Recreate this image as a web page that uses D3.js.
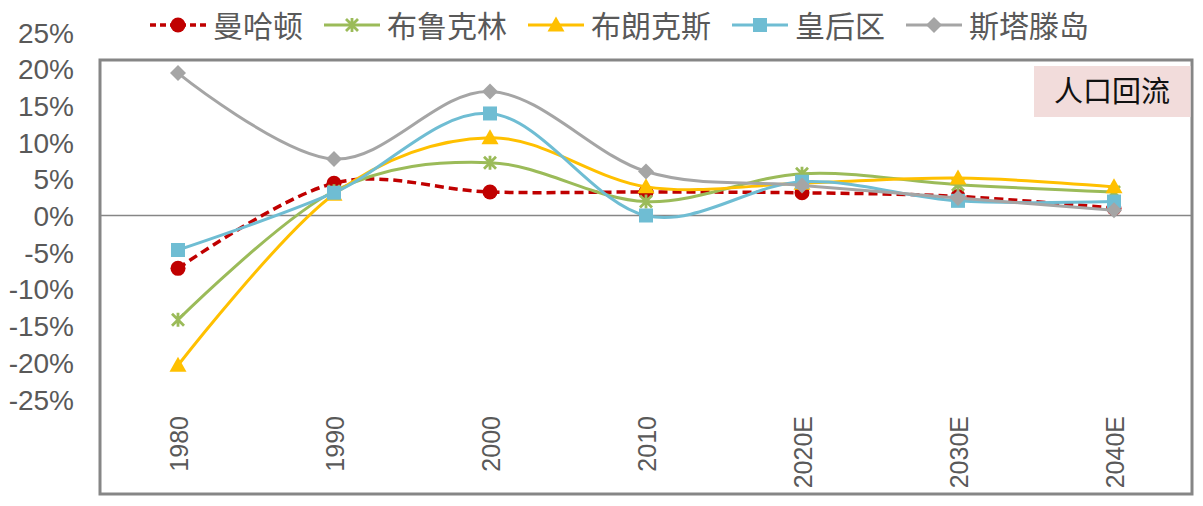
<!DOCTYPE html>
<html>
<head>
<meta charset="utf-8">
<script src="https://cdn.jsdelivr.net/npm/d3@7"></script>
<style>
  body { margin: 0; background: #fff; }
  svg { display: block; }
</style>
</head>
<body>
<script>
// categories and series (percent)
var years = ["1980", "1990", "2000", "2010", "2020E", "2030E", "2040E"];
var manhattan = [-7.2, 4.4, 3.2, 3.2, 3.1, 2.6, 1.0];
var brooklyn  = [-14.2, 3.3, 7.2, 1.9, 5.7, 4.2, 3.2];
var bronx     = [-20.4, 2.9, 10.6, 3.9, 4.4, 5.1, 3.9];
var queens    = [-4.7, 3.1, 13.9, 0.0, 4.6, 2.0, 1.9];
var staten    = [19.4, 7.7, 16.9, 6.0, 4.1, 2.4, 0.7];
var yTicks = [25, 20, 15, 10, 5, 0, -5, -10, -15, -20, -25];

var series = [
  {name: "曼哈顿", values: manhattan, color: "#C00000", marker: "circle", dash: "9,5"},
  {name: "布鲁克林", values: brooklyn, color: "#9BBB59", marker: "star", dash: null},
  {name: "布朗克斯", values: bronx, color: "#FFC000", marker: "triangle", dash: null},
  {name: "皇后区", values: queens, color: "#6FBDD3", marker: "square", dash: null},
  {name: "斯塔滕岛", values: staten, color: "#A5A5A5", marker: "diamond", dash: null}
];

var width = 1203, height = 506;
var box = {left: 100, top: 60, right: 1192, bottom: 494};

var svg = d3.select("body").append("svg")
    .attr("width", width)
    .attr("height", height);

var x = d3.scaleBand().domain(years).range([box.left, box.right]);
var y = d3.scaleLinear().domain([-25, 25]).range([399, 32]);

//plot frame
svg.append("rect")
    .attr("x", box.left).attr("y", box.top)
    .attr("width", box.right - box.left).attr("height", box.bottom - box.top)
    .attr("fill", "none").attr("stroke", "#868686").attr("stroke-width", 3);

//zero line
svg.append("line")
    .attr("x1", box.left).attr("x2", box.right)
    .attr("y1", y(0)).attr("y2", y(0))
    .attr("stroke", "#868686").attr("stroke-width", 1.5);

//y labels
var yAxis = d3.axisLeft(y).tickValues(yTicks).tickSize(0).tickFormat(function(d){ return d + "%"; });
var yg = svg.append("g").attr("transform", "translate(74,0)").call(yAxis);
yg.select(".domain").remove();
yg.selectAll("text")
    .attr("x", 0).attr("dy", "0.36em")
    .style("font-family", "'Liberation Sans', Arial, sans-serif")
    .style("font-size", "28px").attr("fill", "#595959");

//x labels (rotated)
svg.selectAll(".xlab")
    .data(years).enter()
    .append("text")
    .attr("class", "xlab")
    .attr("transform", function(d){ return "translate(" + (x(d) + x.bandwidth() / 2 + 1) + ",416) rotate(-90)"; })
    .attr("text-anchor", "end")
    .attr("dy", "0.36em")
    .style("font-family", "'Liberation Sans', Arial, sans-serif")
    .style("font-size", "25px")
    .attr("fill", "#595959")
    .text(function(d){ return d; });

//marker drawing
function drawMarker(g, type, color, cx, cy){
    if (type == "circle"){
        g.append("circle").attr("cx", cx).attr("cy", cy).attr("r", 7.5).attr("fill", color);
    } else if (type == "square"){
        g.append("rect").attr("x", cx - 7).attr("y", cy - 7).attr("width", 14).attr("height", 14).attr("fill", color);
    } else if (type == "triangle"){
        g.append("path").attr("d", "M" + cx + "," + (cy - 8.5) + "L" + (cx + 8.5) + "," + (cy + 6.5) + "L" + (cx - 8.5) + "," + (cy + 6.5) + "Z").attr("fill", color);
    } else if (type == "diamond"){
        g.append("path").attr("d", "M" + cx + "," + (cy - 8) + "L" + (cx + 8) + "," + cy + "L" + cx + "," + (cy + 8) + "L" + (cx - 8) + "," + cy + "Z").attr("fill", color);
    } else if (type == "star"){
        var s = 6;
        g.append("path")
            .attr("d", "M" + (cx - s) + "," + (cy - s) + "L" + (cx + s) + "," + (cy + s) +
                       "M" + (cx + s) + "," + (cy - s) + "L" + (cx - s) + "," + (cy + s) +
                       "M" + cx + "," + (cy - s - 1) + "L" + cx + "," + (cy + s + 1))
            .attr("stroke", color).attr("stroke-width", 2.8).attr("fill", "none");
    }
}

var line = d3.line()
    .x(function(d, i){ return x(years[i]) + x.bandwidth() / 2; })
    .y(function(d){ return y(d); })
    .curve(d3.curveCatmullRom.alpha(0));

//series: line then markers
series.forEach(function(s){
    var g = svg.append("g");
    g.append("path")
        .datum(s.values)
        .attr("d", line)
        .attr("fill", "none")
        .attr("stroke", s.color)
        .attr("stroke-width", s.dash ? 3.5 : 3)
        .attr("stroke-dasharray", s.dash);
    s.values.forEach(function(v, i){
        drawMarker(g, s.marker, s.color, x(years[i]) + x.bandwidth() / 2, y(v));
    });
});

//legend
var lx = 150;
series.forEach(function(s){
    var g = svg.append("g");
    g.append("line")
        .attr("x1", lx).attr("x2", lx + 56).attr("y1", 25).attr("y2", 25)
        .attr("stroke", s.color).attr("stroke-width", s.dash ? 3.5 : 3)
        .attr("stroke-dasharray", s.dash ? "6,4" : null);
    drawMarker(g, s.marker, s.color, lx + 28, 25);
    var t = g.append("text")
        .attr("x", lx + 63).attr("y", 26)
        .attr("dy", "0.35em")
        .style("font-family", "'Noto Sans CJK SC', sans-serif")
        .style("font-size", "30px")
        .attr("fill", "#595959")
        .text(s.name);
    lx += 63 + t.node().getComputedTextLength() + 21;
});

//annotation box
svg.append("rect")
    .attr("x", 1034).attr("y", 66).attr("width", box.right - 1.5 - 1034).attr("height", 51)
    .attr("fill", "#F2DCDB");
svg.append("text")
    .attr("x", 1112).attr("y", 92)
    .attr("text-anchor", "middle").attr("dy", "0.35em")
    .style("font-family", "'Noto Sans CJK SC', sans-serif")
    .style("font-size", "29px")
    .attr("fill", "#111")
    .text("人口回流");
</script>
</body>
</html>
